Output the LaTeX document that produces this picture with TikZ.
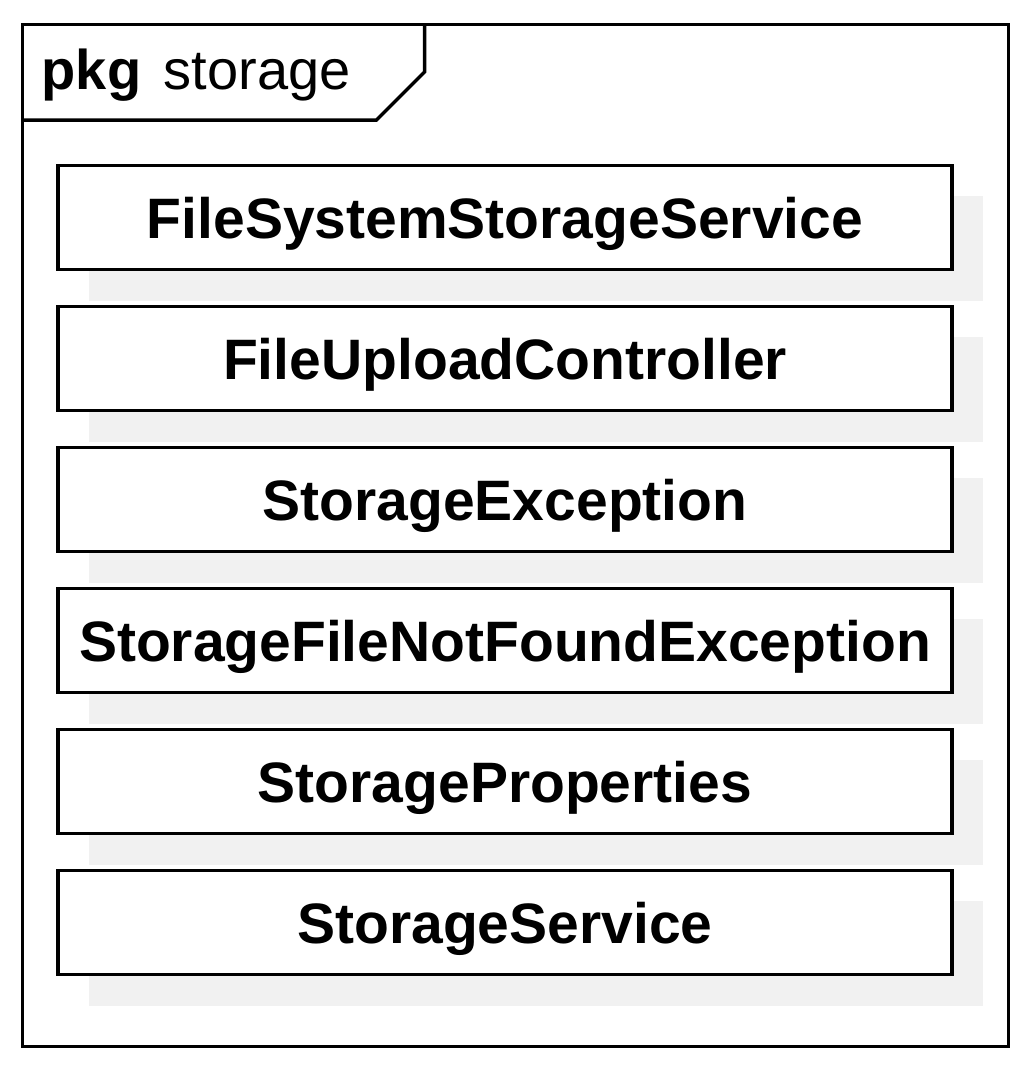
\documentclass[tikz,border=0pt]{standalone}
\usepackage{fontspec}
\setmainfont{Liberation Sans}
\usepackage{tikz}
\usetikzlibrary{
    calc,
    shadows
}
\definecolor{shadowgray}{HTML}{F1F1F1}
\tikzset{
    % package frame and its tab
    pkgframe/.style={line width=3.5pt, draw=black},
    % one class of the package
    classbox/.style={
        draw=black, fill=white, line width=3.5pt,
        minimum width=894pt, minimum height=104.4pt,
        inner sep=0pt, text height=41pt, text depth=0pt,
        font=\fontsize{57}{60}\selectfont\bfseries,
        copy shadow={draw=none, fill=shadowgray,
            shadow xshift=31pt, shadow yshift=-31pt}
    },
    tablabel/.style={anchor=base west, inner sep=0pt,
        font=\fontsize{56}{60}\selectfont}
}
\begin{document}
\begin{tikzpicture}[x=1pt, y=-1pt]
            \useasboundingbox (0,0) rectangle (1036,1074);
            \coordinate (nw) at (22.3,24.7);
            \coordinate (se) at (1008.5,1046.5);
            \coordinate (tabtop) at (424.5,24.7);
            \coordinate (tabcorner) at (424.5,72);
            \coordinate (tabfoot) at (376.5,120);
            \coordinate (tableft) at (22.3,120);
            \begin{scope}[pkgframe]
                \draw (nw) rectangle (se);
                \draw (tableft) -- (tabfoot) -- (tabcorner) -- (tabtop);
            \end{scope}
            \node[tablabel, font=\fontsize{56}{60}\selectfont\bfseries] (pkg) at (41.5,89) {pkg};
            \node[tablabel] (pkgname) at (163.5,89) {storage};
            \foreach \name [count=\i] in {FileSystemStorageService, FileUploadController,
                StorageException, StorageFileNotFoundException, StorageProperties,
                StorageService} {
                \node[classbox] (class\i) at (505, 217.5+141*\i-141) {\name};
            }
        \end{tikzpicture}
\end{document}
